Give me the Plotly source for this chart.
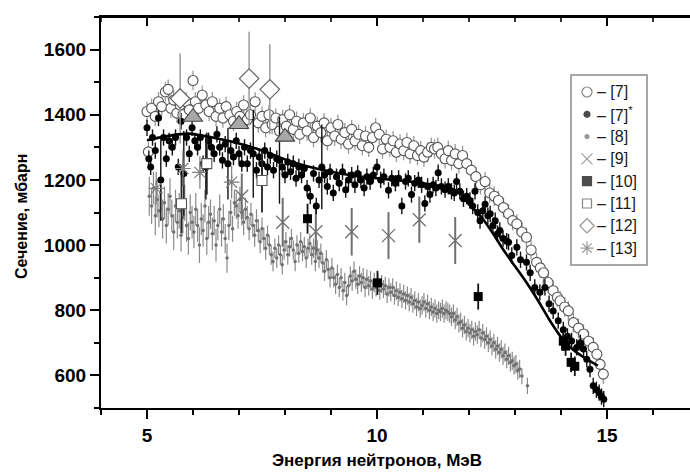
import plotly.graph_objects as go

# ---------------- data ----------------
# [7] open circles
c7_E = [5.00, 5.03, 5.10, 5.18, 5.25, 5.32, 5.40, 5.46, 5.52, 5.58, 5.65, 5.72, 5.78, 5.85, 5.92, 6.00, 6.05, 6.12,
        6.20, 6.28, 6.35, 6.42, 6.50, 6.58, 6.65, 6.72, 6.80, 6.88, 6.95, 7.02, 7.10, 7.18, 7.25, 7.35, 7.42, 7.50,
        7.58, 7.65, 7.72, 7.80, 7.88, 7.95, 8.03, 8.10, 8.18, 8.25, 8.32, 8.40, 8.48, 8.55, 8.62, 8.70, 8.78, 8.85,
        8.92, 9.00, 9.08, 9.15, 9.22, 9.30, 9.38, 9.45, 9.52, 9.60, 9.68, 9.75, 9.82, 9.90, 9.97, 10.05, 10.12, 10.20,
        10.28, 10.35, 10.42, 10.50, 10.58, 10.65, 10.72, 10.80, 10.88, 10.95, 11.02, 11.10, 11.18, 11.25, 11.32,
        11.40, 11.48, 11.55, 11.62, 11.70, 11.78, 11.86, 11.95, 12.05, 12.15, 12.25, 12.35, 12.45, 12.55, 12.64,
        12.75, 12.86, 12.95, 13.04, 13.15, 13.25, 13.35, 13.47, 13.55, 13.62, 13.72, 13.83, 13.92, 13.98, 14.08,
        14.16, 14.27, 14.38, 14.49, 14.60, 14.70, 14.78, 14.85, 14.92]
c7_V = [1410, 1286, 1420, 1395, 1440, 1425, 1470, 1478, 1420, 1445, 1405, 1430, 1400, 1440, 1415, 1505, 1440, 1420,
        1460, 1430, 1410, 1440, 1395, 1420, 1390, 1425, 1400, 1380, 1410, 1395, 1430, 1385, 1400, 1440, 1375, 1395,
        1360, 1400, 1370, 1390, 1350, 1385, 1365, 1400, 1355, 1380, 1340, 1375, 1350, 1390, 1330, 1365, 1345, 1375,
        1320, 1360, 1335, 1370, 1325, 1345, 1310, 1355, 1320, 1340, 1305, 1335, 1300, 1330, 1360, 1340, 1295, 1325,
        1300, 1320, 1285, 1310, 1290, 1315, 1280, 1305, 1275, 1290, 1270, 1285, 1300, 1295, 1300,
        1280, 1265, 1290, 1260, 1280, 1250, 1275, 1250, 1230, 1210, 1185, 1195, 1160, 1150, 1137,
        1115, 1096, 1075, 1065, 1040, 1024, 985, 947, 930, 915, 885, 860, 840, 829, 810,
        798, 762, 745, 727, 705, 686, 665, 634, 604]

# [7]* filled dots (value, error)
d7_E = [5.00, 5.04, 5.08, 5.12, 5.18, 5.25, 5.30, 5.36, 5.42, 5.48, 5.55, 5.62, 5.68, 5.74, 5.80, 5.86, 5.92, 5.98,
        6.04, 6.10, 6.16, 6.22, 6.28, 6.34, 6.40, 6.46, 6.52, 6.58, 6.64, 6.70, 6.76, 6.82, 6.88, 6.94, 7.00, 7.06,
        7.12, 7.18, 7.25, 7.31, 7.38, 7.44, 7.50, 7.56, 7.62, 7.68, 7.75, 7.82, 7.88, 7.94, 8.00, 8.06, 8.12, 8.18,
        8.24, 8.30, 8.36, 8.42, 8.48, 8.55, 8.62, 8.68, 8.74, 8.80, 8.86, 8.92, 8.98, 9.05, 9.12, 9.18, 9.25, 9.32,
        9.38, 9.45, 9.52, 9.58, 9.65, 9.72, 9.78, 9.85, 9.92, 10.00, 10.08, 10.15, 10.25, 10.32, 10.40, 10.47, 10.54,
        10.62, 10.68, 10.75, 10.82, 10.90, 10.97, 11.04, 11.10, 11.15, 11.22, 11.28, 11.33, 11.40, 11.48, 11.55,
        11.62, 11.68, 11.73, 11.80, 11.88, 11.95, 12.02, 12.08, 12.13, 12.19, 12.24, 12.30, 12.35, 12.41, 12.46,
        12.52, 12.57, 12.62, 12.67, 12.74, 12.82, 12.86, 12.93, 13.04, 13.12, 13.25, 13.33, 13.43, 13.54, 13.65,
        13.74, 13.83, 13.94, 14.05, 14.14, 14.23, 14.34, 14.42, 14.49, 14.56, 14.63, 14.70, 14.77, 14.83, 14.88, 14.93]
d7_V = [1360, 1265, 1240, 1330, 1290, 1390, 1200, 1330, 1265, 1320, 1300, 1330, 1240, 1380, 1220, 1330, 1280, 1360,
        1320, 1300, 1330, 1250, 1240, 1320, 1300, 1280, 1340, 1300, 1260, 1310, 1250, 1290, 1270, 1320, 1280, 1250,
        1300, 1250, 1290, 1280, 1230, 1270, 1250, 1290, 1240, 1275, 1230, 1265, 1260, 1240, 1215, 1255, 1225, 1250,
        1205, 1240, 1215, 1235, 1175, 1150, 1220, 1120, 1200, 1240, 1215, 1180, 1225, 1160, 1210, 1190, 1225, 1170,
        1200, 1215, 1185, 1220, 1200, 1175, 1210, 1195, 1215, 1240, 1200, 1210, 1168, 1205, 1190, 1205, 1120,
        1195, 1205, 1155, 1190, 1200, 1185, 1128, 1180, 1155, 1185, 1175, 1222, 1180, 1170, 1180,
        1165, 1160, 1195, 1165, 1142, 1150, 1137, 1120, 1165, 1100, 1075, 1105, 1125, 1090, 1096,
        1060, 1075, 1035, 1045, 1020, 1012, 1009, 968, 993, 955, 947, 915, 870, 855, 870,
        820, 798, 768, 740, 720, 706, 686, 700, 681, 650, 619, 568, 556, 547, 535, 527]
d7_err = [25, 25, 25, 25, 25, 25, 125, 25, 25, 25, 25, 25, 25, 25, 130, 25, 25, 25,
          25, 25, 25, 25, 100, 25, 25, 25, 25, 25, 25, 25, 110, 25, 25, 25, 25, 25,
          25, 25, 25, 135, 25, 25, 25, 25, 25, 25, 25, 25, 133, 25, 25, 25, 25, 25,
          25, 25, 25, 25, 25, 25, 25, 25, 25, 130, 25, 25, 25, 25, 25, 25, 25, 25,
          25, 25, 25, 25, 25, 25, 25, 25, 25, 25, 25, 25, 25, 25, 25, 25, 25,
          25, 25, 25, 25, 25, 25, 25, 25, 25, 25, 25, 25, 25, 25, 25,
          25, 25, 25, 25, 25, 25, 25, 25, 25, 25, 25, 25, 25, 25, 25,
          25, 25, 25, 25, 25, 25, 25, 25, 25, 25, 25, 25, 25, 25, 25,
          25, 25, 25, 25, 25, 25, 25, 25, 25, 25, 25, 25, 25, 25, 25, 25]

# [8] small grey dots
g8_E = [5.05, 5.10, 5.14, 5.18, 5.22, 5.26, 5.30, 5.34, 5.38, 5.42, 5.46, 5.50, 5.54, 5.58, 5.62, 5.66, 5.70, 5.74,
        5.78, 5.82, 5.86, 5.90, 5.94, 5.98, 6.02, 6.06, 6.10, 6.14, 6.18, 6.22, 6.26, 6.30, 6.34, 6.38, 6.42, 6.46,
        6.50, 6.54, 6.58, 6.62, 6.66, 6.70, 6.74, 6.78, 6.82, 6.86, 6.90, 6.94, 6.98, 7.02, 7.06, 7.10, 7.14, 7.18,
        7.22, 7.26, 7.30, 7.34, 7.38, 7.42, 7.46, 7.50, 7.54, 7.58, 7.62, 7.66, 7.70, 7.74, 7.78, 7.82, 7.86, 7.90,
        7.94, 7.98, 8.02, 8.06, 8.10, 8.14, 8.18, 8.22, 8.26, 8.30, 8.34, 8.38, 8.42, 8.46, 8.50, 8.54, 8.58, 8.62,
        8.66, 8.70, 8.74, 8.78, 8.82, 8.86, 8.90, 8.94, 8.98, 9.02, 9.06, 9.10, 9.14, 9.18, 9.22, 9.26, 9.30, 9.34,
        9.38, 9.42, 9.46, 9.50, 9.54, 9.58, 9.62, 9.66, 9.70, 9.74, 9.78, 9.82, 9.86, 9.90, 9.94, 9.98, 10.02, 10.06,
        10.10, 10.14, 10.18, 10.22, 10.26, 10.30, 10.34, 10.38, 10.42, 10.46, 10.50, 10.54, 10.58, 10.62, 10.66,
        10.70, 10.74, 10.78, 10.82, 10.86, 10.90, 10.94, 10.98, 11.02, 11.06, 11.10, 11.14, 11.18, 11.22, 11.26,
        11.30, 11.34, 11.38, 11.42, 11.46, 11.50, 11.54, 11.58, 11.62, 11.66, 11.70, 11.74, 11.78, 11.82, 11.86,
        11.90, 11.94, 11.98, 12.02, 12.06, 12.10, 12.14, 12.18, 12.22, 12.26, 12.30, 12.34, 12.38, 12.42, 12.46,
        12.50, 12.54, 12.58, 12.62, 12.66, 12.70, 12.74, 12.78, 12.82, 12.86, 12.90, 12.94, 12.98, 13.02, 13.06,
        13.10, 13.15, 13.27]
g8_V = [1150, 1120, 1175, 1090, 1140, 1105, 1160, 1080, 1130, 1060, 1110, 1150, 1090, 1040, 1120, 1070, 1105, 1030,
        1085, 1130, 1060, 1020, 1100, 1070, 1040, 1110, 1060, 1000, 1080, 1045, 1120, 1020, 1070, 1095, 1035, 1075,
        1000, 1060, 1110, 1040, 1080, 1020, 960, 1060, 1100, 1050, 1130, 1120, 1090, 1140, 1100, 1070, 1110, 1085,
        1050, 1095, 1060, 1030, 1075, 1045, 1010, 1050, 1020, 990, 1030, 1000, 970, 950, 990, 960, 1000, 970,
        940, 985, 1010, 970, 995, 1020, 985, 950, 1000, 975, 1010, 980, 995, 960, 990, 1005, 970, 990,
        950, 985, 960, 975, 945, 920, 955, 925, 900, 930, 900, 880, 910, 870, 900, 860, 885, 845,
        875, 905, 890, 920, 895, 880, 905, 885, 900, 870, 895, 875, 890, 865, 885, 870, 885, 860,
        880, 865, 875, 850, 870, 855, 870, 845, 860, 840, 855, 835, 850, 830, 845,
        825, 840, 820, 830, 810, 825, 805, 815, 825, 805, 820, 800, 810, 795, 805,
        790, 800, 795, 805, 790, 800, 795, 790, 780, 790, 770, 780, 760, 765, 745,
        755, 735, 745, 730, 740, 720, 735, 725, 740, 715, 730, 710, 720, 700, 710,
        690, 700, 680, 690, 670, 680, 660, 670, 650, 660, 640, 645, 630, 635, 615,
        620, 598, 568]
g8_err = [60, 55, 50, 60, 55, 50, 55, 60, 50, 55, 50, 55, 50, 55, 50, 50, 55, 50,
          50, 55, 50, 50, 55, 50, 50, 50, 50, 55, 50, 50, 50, 50, 50, 45, 50, 45,
          50, 45, 45, 45, 45, 45, 45, 45, 40, 40, 40, 40, 40, 40, 40, 40, 35, 35,
          35, 35, 35, 35, 35, 35, 35, 35, 35, 35, 30, 30, 30, 30, 30, 30, 30, 30,
          30, 30, 30, 30, 30, 30, 30, 30, 30, 30, 30, 30, 30, 30, 30, 30, 30, 30,
          30, 30, 30, 30, 30, 30, 30, 30, 30, 30, 30, 30, 30, 30, 30, 30, 30, 30,
          30, 30, 30, 30, 30, 30, 30, 30, 30, 30, 30, 30, 30, 30, 30, 28, 28, 28,
          28, 28, 28, 28, 28, 28, 28, 28, 28, 28, 28, 28, 28, 28, 28,
          28, 28, 28, 28, 28, 28, 28, 28, 28, 28, 28, 28, 28, 28, 28,
          28, 28, 28, 28, 28, 28, 28, 28, 28, 28, 28, 28, 28, 28, 28,
          28, 28, 28, 28, 28, 28, 28, 28, 28, 28, 28, 28, 28, 28, 28,
          28, 28, 28, 28, 28, 28, 28, 28, 28, 28, 28, 28, 28, 28, 28,
          28, 25, 25]

# [9] crosses
x9_E = [7.06, 7.95, 8.67, 9.45, 10.25, 10.92, 11.70]
x9_V = [1150, 1070, 1041, 1041, 1029, 1078, 1014]
x9_err = [70, 75, 72, 73, 72, 71, 72]

# [10] filled squares
s10_E = [8.49, 10.01, 12.20, 14.05, 14.10, 14.22, 14.30]
s10_V = [1081, 884, 842, 705, 690, 640, 628]
s10_err = [46, 37, 40, 30, 30, 30, 30]

# [11] open squares
s11_E = [5.75, 6.30, 7.50]
s11_V = [1127, 1250, 1198]
s11_err = [90, 95, 98]

# [12] open diamonds
d12_E = [5.72, 7.22, 7.67]
d12_V = [1450, 1511, 1478]
d12_err = [138, 144, 138]

# [13] asterisks
a13_E = [5.20, 5.78, 6.15, 6.84]
a13_V = [1174, 1235, 1223, 1193]
a13_err = [50, 55, 50, 50]

# grey triangles (unlabelled)
tri_E = [6.0, 7.0, 8.0]
tri_V = [1393, 1371, 1332]

# fitted curve
fit_E = [5.0, 5.5, 5.9, 6.5, 7.0, 7.5, 8.0, 8.5, 9.0, 9.5, 10.0, 10.5, 11.0, 11.5, 11.8, 12.0, 12.25, 12.5,
         12.75, 13.0, 13.25, 13.5, 13.75, 14.0, 14.25, 14.5, 14.8]
fit_V = [1322, 1336, 1342, 1328, 1312, 1290, 1263, 1241, 1225, 1213, 1205, 1198, 1190, 1178, 1160, 1125, 1090,
         1040, 985, 935, 885, 830, 770, 718, 680, 655, 630]

legend_labels = ["– [7]", "– [7]<sup>*</sup>", "– [8]", "– [9]", "– [10]", "– [11]", "– [12]", "– [13]"]
x_tick_vals = [5, 10, 15]
x_minor_vals = [4, 6, 7, 8, 9, 11, 12, 13, 14, 16]
y_tick_vals = [600, 800, 1000, 1200, 1400, 1600]

# ---------------- layout helpers ----------------
W, H = 690, 473
L, R, T, B = 101, 690, 17, 408
XR = [4, 4 + (R - L) / 46.0]
YR = [500, 1700]


def pxx(p):
    return (p - L) / (R - L)


def pxy(p):
    return (B - p) / (B - T)


def data_x(p):  # pixel -> x data units
    return XR[0] + pxx(p) * (XR[1] - XR[0])


def data_y(p):  # pixel -> y data units
    return YR[0] + pxy(p) * (YR[1] - YR[0])


LGREY = "#9a9a9a"
MGREY = "#707070"

fig = go.Figure()


def eb(arr, color, th=1.2):
    return dict(type="data", array=arr, visible=True, color=color, thickness=th, width=0)


fig.add_trace(go.Scatter(x=g8_E, y=g8_V, mode="markers", error_y=eb(g8_err, "#8a8a8a", 1.2),
                         marker=dict(symbol="circle", size=3.5, color=MGREY), showlegend=False))
fig.add_trace(go.Scatter(x=x9_E, y=x9_V, mode="markers", error_y=eb(x9_err, MGREY, 2),
                         marker=dict(symbol="x-thin-open", size=13, color=MGREY, line=dict(color=MGREY, width=1.3)),
                         showlegend=False))
fig.add_trace(go.Scatter(x=c7_E, y=c7_V, mode="markers", error_y=eb([30] * len(c7_E), LGREY, 1.3),
                         marker=dict(symbol="circle", size=10, color="white", line=dict(color="#555555", width=1.1)),
                         showlegend=False))
fig.add_trace(go.Scatter(x=d7_E, y=d7_V, mode="markers", error_y=eb(d7_err, "#111111", 1.4),
                         marker=dict(symbol="circle", size=7, color="black"), showlegend=False))
fig.add_trace(go.Scatter(x=a13_E, y=a13_V, mode="markers", error_y=eb(a13_err, "#808080", 1.2),
                         marker=dict(symbol="asterisk-open", size=13, color="#808080",
                                     line=dict(color="#808080", width=1.2)),
                         showlegend=False))
fig.add_trace(go.Scatter(x=s11_E, y=s11_V, mode="markers", error_y=eb(s11_err, "#222222", 1.8),
                         marker=dict(symbol="square", size=10, color="white", line=dict(color="#555555", width=1.1)),
                         showlegend=False))
fig.add_trace(go.Scatter(x=d12_E, y=d12_V, mode="markers", error_y=eb(d12_err, LGREY, 1.5),
                         marker=dict(symbol="diamond", size=15, color="white", line=dict(color="#666666", width=1.2)),
                         showlegend=False))
fig.add_trace(go.Scatter(x=s10_E, y=s10_V, mode="markers", error_y=eb(s10_err, "#111111", 1.8),
                         marker=dict(symbol="square", size=9, color="black"), showlegend=False))
fig.add_trace(go.Scatter(x=tri_E, y=tri_V, mode="markers",
                         marker=dict(symbol="triangle-up", size=17, color="#a8a8a8",
                                     line=dict(color="#444444", width=1.1)), showlegend=False))
fig.add_trace(go.Scatter(x=fit_E, y=fit_V, mode="lines",
                         line=dict(color="black", width=2.6, shape="spline", smoothing=0.6),
                         showlegend=False))

# top frame line and its inward ticks at the x tick values
fig.add_shape(type="line", xref="paper", yref="paper", x0=0, x1=1, y0=1, y1=1,
              line=dict(color="black", width=2.2), layer="above")
for v in x_tick_vals:
    fig.add_shape(type="line", xref="x", yref="paper", x0=v, x1=v, y0=1, y1=1 - 9 / (B - T),
                  line=dict(color="black", width=2), layer="above")
for v in x_minor_vals:
    fig.add_shape(type="line", xref="x", yref="paper", x0=v, x1=v, y0=1, y1=1 - 5 / (B - T),
                  line=dict(color="black", width=1.6), layer="above")

# custom legend
leg_y = [92 + 22.3 * i for i in range(len(legend_labels))]
leg_sym = ["circle", "circle", "circle", "x-thin-open", "square", "square", "diamond", "asterisk-open"]
leg_size = [10, 6, 4, 11, 9, 9, 11, 11]
leg_col = ["white", "black", MGREY, MGREY, "black", "white", "white", MGREY]
leg_line = ["#555555", "black", MGREY, MGREY, "black", "#555555", "#666666", MGREY]
fig.add_trace(go.Scatter(x=[data_x(587)] * len(leg_y), y=[data_y(v) for v in leg_y], mode="markers",
                         showlegend=False, hoverinfo="skip",
                         marker=dict(symbol=leg_sym, size=leg_size, color=leg_col,
                                     line=dict(color=leg_line, width=1.2))))
for lab, yy in zip(legend_labels, leg_y):
    fig.add_annotation(x=pxx(595), y=pxy(yy), xref="paper", yref="paper", text=lab, showarrow=False,
                       xanchor="left", yanchor="middle", font=dict(size=16, color="#1a1a1a",
                                                                      family="Liberation Sans, Arial"))
fig.add_shape(type="rect", xref="paper", yref="paper", x0=pxx(571), x1=pxx(647), y0=pxy(75), y1=pxy(265),
              line=dict(color="#8a8a8a", width=1.5), fillcolor="rgba(0,0,0,0)", layer="below")

# axis titles
fig.add_annotation(x=pxx(377), y=pxy(460), xref="paper", yref="paper", text="<b>Энергия нейтронов, МэВ</b>",
                   showarrow=False, xanchor="center", yanchor="middle",
                   font=dict(size=17, color="black", family="Liberation Sans, Arial"))
fig.add_annotation(x=pxx(22), y=pxy(217), xref="paper", yref="paper", text="<b>Сечение, мбарн</b>",
                   showarrow=False, xanchor="center", yanchor="middle", textangle=-90,
                   font=dict(size=16, color="black", family="Liberation Sans, Arial"))

tickfont = dict(size=19, color="black", family="Liberation Sans, Arial")
fig.update_layout(
    width=W, height=H, margin=dict(l=L, r=W - R, t=T, b=H - B),
    paper_bgcolor="white", plot_bgcolor="white",
    font=dict(family="Liberation Sans, Arial"),
    xaxis=dict(range=XR, showgrid=False, zeroline=False, showline=True, mirror=True,
               linecolor="black", linewidth=2.2,
               ticks="outside", ticklen=9, tickwidth=2, tickcolor="black",
               tickvals=x_tick_vals, ticktext=[f"<b>{v}</b>" for v in x_tick_vals], tickfont=tickfont,
               minor=dict(ticks="outside", ticklen=5, tickwidth=1.6, tickcolor="black", dtick=1, tick0=0)),
    yaxis=dict(range=YR, showgrid=False, zeroline=False, showline=True, linecolor="black", linewidth=2.2,
               ticks="outside", ticklen=9, tickwidth=2, tickcolor="black",
               tickvals=y_tick_vals, ticktext=[f"<b>{v}</b>" for v in y_tick_vals], tickfont=tickfont,
               minor=dict(ticks="outside", ticklen=5, tickwidth=1.6, tickcolor="black", dtick=100, tick0=0)),
)

fig.write_html("out.html", config={"displayModeBar": False})
